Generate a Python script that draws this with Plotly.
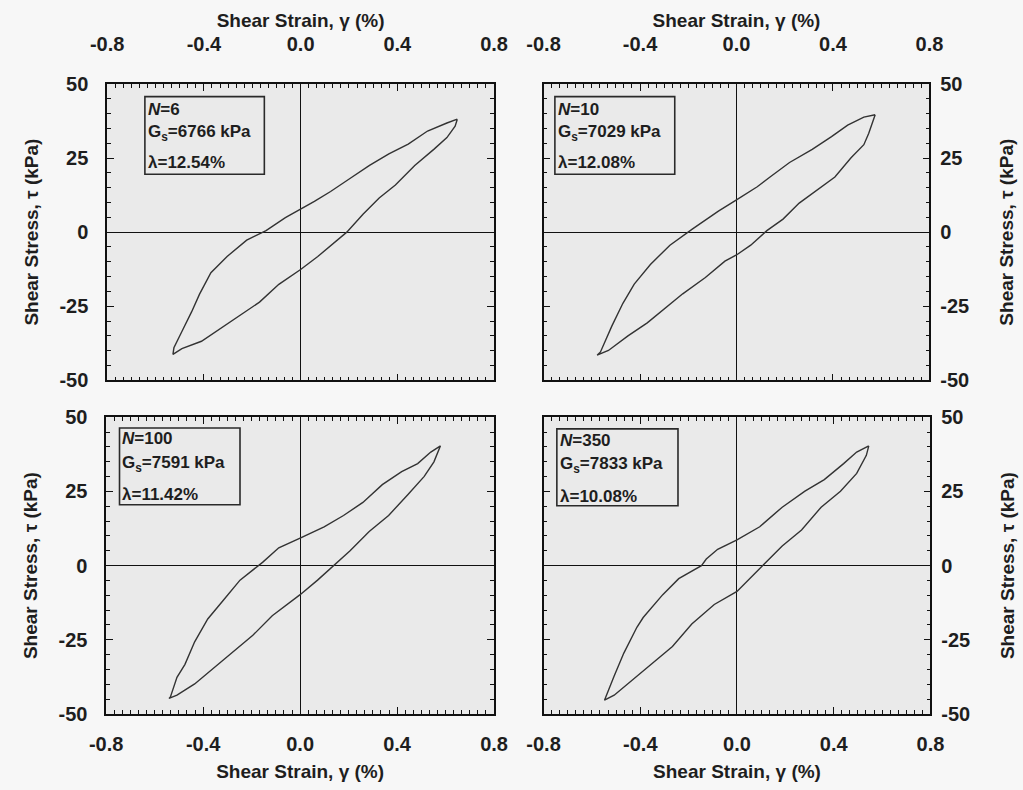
import plotly.graph_objects as go

# ---------------- data ----------------
# closed loops: peak -> upper (unloading) branch -> negative tip -> lower (reloading) branch -> peak
strain_n6 = [0.648, 0.605, 0.525, 0.445, 0.365, 0.285, 0.204, 0.124, 0.057, 0.0, -0.063, -0.143,
             -0.223, -0.304, -0.371, -0.418, -0.451, -0.491, -0.524, -0.528,
             -0.491, -0.410, -0.330, -0.250, -0.170, -0.090, 0.0, 0.071, 0.138, 0.191, 0.258,
             0.325, 0.392, 0.472, 0.552, 0.605, 0.639, 0.648]
stress_n6 = [38.1, 36.8, 34.1, 29.7, 26.4, 22.5, 18.1, 13.7, 10.4, 7.7, 4.9, 0.5,
             -2.7, -8.2, -13.7, -20.9, -26.9, -33.5, -39.0, -41.2,
             -39.3, -36.8, -32.4, -28.0, -23.6, -17.6, -12.6, -8.2, -3.8, 0.0, 6.0,
             11.5, 15.9, 22.5, 28.0, 31.9, 35.7, 38.1]

strain_n10 = [0.575, 0.528, 0.461, 0.394, 0.314, 0.220, 0.139, 0.086, 0.0, -0.075, -0.182,
              -0.276, -0.357, -0.424, -0.471, -0.517, -0.564, -0.578,
              -0.531, -0.450, -0.370, -0.290, -0.223, -0.129, -0.048, 0.0, 0.059, 0.126,
              0.193, 0.260, 0.327, 0.408, 0.475, 0.528, 0.548, 0.568, 0.575]
stress_n10 = [39.6, 38.8, 36.1, 32.2, 27.9, 23.5, 18.6, 15.3, 10.9, 7.1, 1.1,
              -4.4, -10.9, -17.5, -24.0, -31.7, -40.4, -41.5,
              -39.9, -35.0, -30.6, -25.1, -20.8, -15.3, -9.8, -7.7, -4.4, 0.5,
              4.4, 9.8, 13.7, 18.6, 25.1, 29.5, 33.3, 37.7, 39.6]

strain_n100 = [0.579, 0.539, 0.485, 0.419, 0.339, 0.259, 0.179, 0.099, 0.0, -0.088, -0.155,
               -0.248, -0.315, -0.381, -0.435, -0.475, -0.508, -0.535, -0.541,
               -0.508, -0.435, -0.355, -0.275, -0.195, -0.115, 0.0, 0.072, 0.139, 0.205,
               0.285, 0.365, 0.445, 0.512, 0.552, 0.572, 0.579]
stress_n100 = [40.4, 38.3, 34.4, 31.7, 27.3, 21.3, 16.9, 13.1, 9.3, 6.0, 1.1,
               -4.9, -11.5, -18.0, -25.7, -33.3, -37.7, -44.3, -44.8,
               -43.7, -39.9, -34.4, -29.0, -23.5, -16.9, -9.8, -4.9, 0.0, 4.9,
               11.5, 16.9, 24.0, 30.1, 35.0, 38.8, 40.4]

strain_n350 = [0.545, 0.495, 0.441, 0.361, 0.281, 0.187, 0.094, 0.0, -0.080, -0.127, -0.147,
               -0.241, -0.307, -0.388, -0.414, -0.468, -0.508, -0.541, -0.548,
               -0.508, -0.428, -0.348, -0.267, -0.187, -0.094, 0.0, 0.080, 0.107, 0.187,
               0.267, 0.348, 0.428, 0.495, 0.535, 0.545]
stress_n350 = [40.4, 38.3, 34.4, 29.0, 25.1, 19.7, 13.1, 8.7, 5.5, 2.2, 0.0,
               -4.4, -9.8, -17.5, -20.8, -29.5, -37.2, -43.7, -45.4,
               -43.7, -38.3, -32.8, -27.3, -19.7, -13.1, -8.7, -2.2, 0.0, 6.6,
               12.0, 19.7, 25.1, 31.1, 37.2, 40.4]

cycles = [6, 10, 100, 350]
gs_values = [6766, 7029, 7591, 7833]
damping_values = [12.54, 12.08, 11.42, 10.08]

x_tickvals = [-0.8, -0.4, 0.0, 0.4, 0.8]
x_ticktext = ["-0.8", "-0.4", "0.0", "0.4", "0.8"]
y_tickvals = [-50, -25, 0, 25, 50]
y_ticktext = ["-50", "-25", "0", "25", "50"]

x_title = "Shear Strain, γ (%)"
y_title = "Shear Stress, τ (kPa)"

# ---------------- figure ----------------
FONT = "Liberation Sans, Arial, sans-serif"
INK = "#1e1e1e"

loops = [(strain_n6, stress_n6), (strain_n10, stress_n10),
         (strain_n100, stress_n100), (strain_n350, stress_n350)]

fig = go.Figure()
for i, (sx, sy) in enumerate(loops):
    sfx = "" if i == 0 else str(i + 1)
    fig.add_trace(go.Scatter(x=sx, y=sy, mode="lines", xaxis="x" + sfx, yaxis="y" + sfx,
                             line=dict(color="#333333", width=1.4), showlegend=False,
                             hoverinfo="skip"))

x_domains = [[0.0909, 0.4809], [0.5308, 0.9198], [0.0899, 0.4809], [0.5308, 0.9208]]
y_domains = [[0.5190, 0.9051], [0.5190, 0.9051], [0.0848, 0.4709], [0.0848, 0.4709]]
x_sides = ["top", "top", "bottom", "bottom"]
y_sides = ["left", "right", "left", "right"]

layout = dict(
    width=1023, height=790,
    margin=dict(l=0, r=0, t=0, b=0),
    paper_bgcolor="#f7f7f7", plot_bgcolor="#eaeaea",
    font=dict(family=FONT, color=INK, size=18),
    showlegend=False,
)

for i in range(4):
    sfx = "" if i == 0 else str(i + 1)
    common = dict(showline=True, linecolor="#111111", linewidth=1.6, mirror="ticks",
                  ticks="inside", ticklen=7, tickwidth=1.4, tickcolor="#111111",
                  showgrid=False, zeroline=True, zerolinecolor="#111111", zerolinewidth=1.4,
                  tickfont=dict(family=FONT, size=20, color=INK, weight="bold"),
                  title_font=dict(family=FONT, size=19, color=INK, weight="bold"))
    top = x_sides[i] == "top"
    layout["xaxis" + sfx] = dict(
        common, domain=x_domains[i], anchor="y" + sfx, side=x_sides[i],
        range=[-0.8, 0.8], tickmode="array", tickvals=x_tickvals, ticktext=x_ticktext,
        minor=dict(ticks="inside", ticklen=4, tickcolor="#111111", tickwidth=1.1,
                   tickmode="linear", tick0=-0.8, dtick=0.4 / 12, showgrid=False),
        ticklabelstandoff=23 if top else 11,
        title=dict(text=x_title, standoff=0 if top else 11),
    )
    right = y_sides[i] == "right"
    layout["yaxis" + sfx] = dict(
        common, domain=y_domains[i], anchor="x" + sfx, side=y_sides[i],
        range=[-50, 50], tickmode="array", tickvals=y_tickvals, ticktext=y_ticktext,
        minor=dict(ticks="inside", ticklen=4, tickcolor="#111111", tickwidth=1.1,
                   tickmode="linear", tick0=-50, dtick=5, showgrid=False),
        ticklabelstandoff=5 if right else 13,
        title=dict(text=y_title, standoff=32 if right else 16),
    )

fig.update_layout(**layout)

# info boxes
box_x = [(-0.644, -0.150), (-0.753, -0.256), (-0.745, -0.248), (-0.745, -0.244)]
box_y = [(19.5, 45.7), (19.5, 45.7), (20.5, 46.4), (20.2, 46.1)]
text_x = [-0.640, -0.748, -0.741, -0.741]
line_y = [(41.5, 33.3, 23.4), (41.5, 33.3, 23.4), (42.7, 34.3, 23.9), (42.2, 33.8, 23.4)]

for i in range(4):
    sfx = "" if i == 0 else str(i + 1)
    xr, yr = "x" + sfx, "y" + sfx
    fig.add_shape(type="rect", xref=xr, yref=yr, x0=box_x[i][0], x1=box_x[i][1],
                  y0=box_y[i][0], y1=box_y[i][1],
                  line=dict(color="#2a2a2a", width=1.6), fillcolor="rgba(0,0,0,0)")
    lines = [f"<i>N</i>={cycles[i]}",
             f"G<sub>s</sub>={gs_values[i]} kPa",
             f"λ={damping_values[i]:.2f}%"]
    for txt, yy in zip(lines, line_y[i]):
        fig.add_annotation(x=text_x[i], y=yy, xref=xr, yref=yr, text=txt, showarrow=False,
                           xanchor="left", yanchor="middle",
                           font=dict(family=FONT, size=17, color=INK, weight="bold"))

fig.write_html("out.html")
